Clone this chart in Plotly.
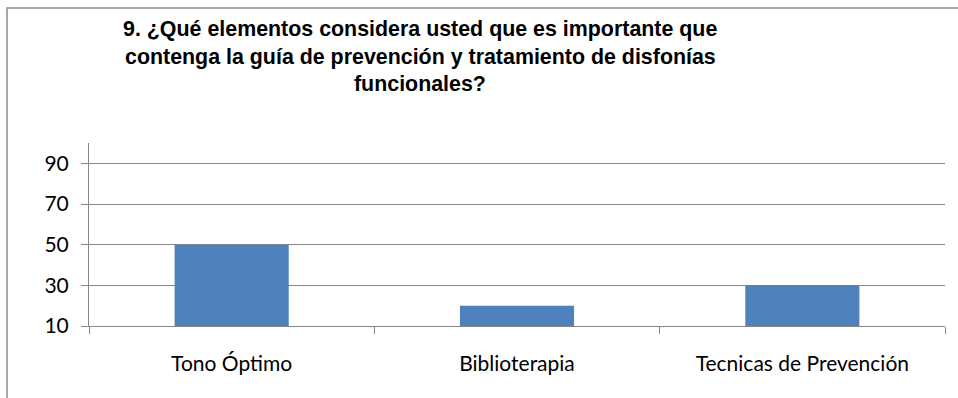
import plotly.graph_objects as go

categories = ["Tono Óptimo", "Biblioterapia", "Tecnicas de Prevención"]
values = [50, 20, 30]
y_ticks = [10, 30, 50, 70, 90]
title_lines = ["9. ¿Qué elementos considera usted que es importante que",
               "contenga la guía de prevención y tratamiento de disfonías",
               "funcionales?"]

W, H = 958, 398
L, R, T, B = 89, 13, 143, 72
pw, ph = W - L - R, H - T - B

def px2x(x):
    return (x - L) / pw

def py2y(y):
    return (H - B - y) / ph

fig = go.Figure(go.Bar(x=categories, y=values, marker=dict(color="#4F81BD", line=dict(width=0)),
                       width=0.4))

title_centers = [29, 56.5, 84]
annotations = [dict(text="<b>" + line + "</b>", xref="paper", yref="paper",
                    x=px2x(420), y=py2y(cy), xanchor="center", yanchor="middle", showarrow=False,
                    font=dict(family="Liberation Sans", size=21.4, color="black"))
               for line, cy in zip(title_lines, title_centers)]

fig.update_layout(
    width=W, height=H,
    margin=dict(l=L, r=R, t=T, b=B),
    paper_bgcolor="white", plot_bgcolor="white",
    showlegend=False,
    font=dict(family="Lato", color="black"),
    xaxis=dict(showline=True, linecolor="#868686", linewidth=1, ticks="outside", ticklen=7,
               tickcolor="#868686", tickson="boundaries", tickfont=dict(size=21, family="Lato"),
               ticklabelstandoff=19, showgrid=False),
    yaxis=dict(range=[10, 100], tickvals=y_ticks, showline=True, linecolor="#868686", linewidth=1,
               ticks="outside", ticklen=7, tickcolor="#868686", showgrid=True, gridcolor="#868686",
               gridwidth=1, zeroline=False, tickfont=dict(size=21, family="Lato"),
               ticklabelstandoff=8),
    annotations=annotations,
    shapes=[dict(type="rect", xref="paper", yref="paper", x0=px2x(7), x1=px2x(1000),
                 y0=py2y(8), y1=py2y(450), line=dict(color="#8c8c8c", width=1.5),
                 fillcolor="rgba(0,0,0,0)", layer="below")],
)

fig.write_html("out.html")
